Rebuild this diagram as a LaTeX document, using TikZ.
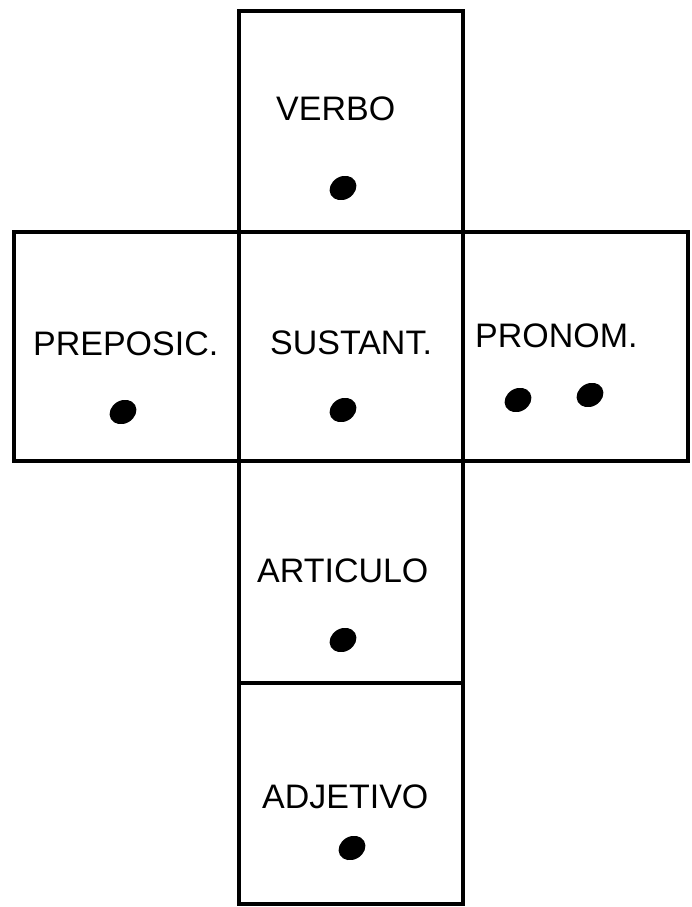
\documentclass[tikz,border=0pt]{standalone}
\usepackage{fontspec}
\setmainfont{Liberation Sans}
\usetikzlibrary{shapes.geometric}

\begin{document}
\begin{tikzpicture}[
    x=0.3mm, y=-0.3mm,
    face/.style={draw=black, line width=4.2pt, inner sep=0pt,
      minimum width=67.2mm, minimum height=66.3mm},
    word/.style={font=\fontsize{29}{30}\selectfont, inner sep=0pt, anchor=base west},
    dot/.style={ellipse, fill=black, inner sep=0pt,
      minimum width=8.4mm, minimum height=6.9mm, rotate=30}
  ]
  \useasboundingbox (0,0) rectangle (691,907);

  % faces of the net
  \node[face] (verbo) at (351,121.5) {};
  \node[face, minimum width=67.5mm, minimum height=68.7mm] (prep) at (126.5,346.5) {};
  \node[face, minimum height=68.7mm] (sust) at (351,346.5) {};
  \node[face, minimum width=67.5mm, minimum height=68.7mm] (pron) at (575.5,346.5) {};
  \node[face, minimum height=66.6mm] (art) at (351,572) {};
  \node[face] (adj) at (351,793.5) {};

  % words
  \node[word] (verbo-txt) at (276,121) {VERBO};
  \node[word] (prep-txt) at (33,355) {PREPOSIC.};
  \node[word] (sust-txt) at (270,354) {SUSTANT.};
  \node[word] (pron-txt) at (475,347) {PRONOM.};
  \node[word] (art-txt) at (257,582) {ARTICULO};
  \node[word] (adj-txt) at (262,808) {ADJETIVO};

  % dots
  \node[dot] (verbo-dot) at (343,188) {};
  \node[dot] (prep-dot) at (123,412) {};
  \node[dot] (sust-dot) at (343,410) {};
  \node[dot] (pron-dot1) at (518,400) {};
  \node[dot] (pron-dot2) at (590,395) {};
  \node[dot] (art-dot) at (343,640) {};
  \node[dot] (adj-dot) at (352,848) {};
\end{tikzpicture}
\end{document}
